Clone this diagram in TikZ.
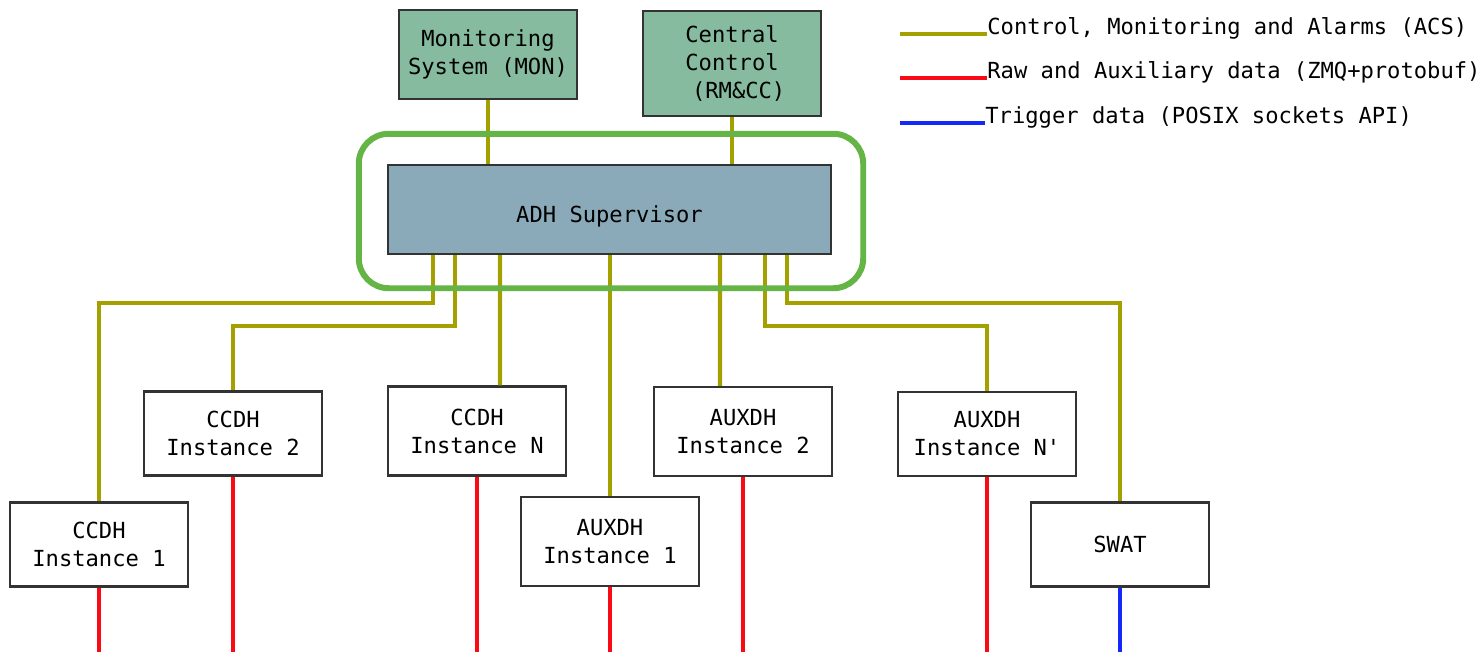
\documentclass[tikz,border=0pt]{standalone}
\usepackage{fontspec}
\setmonofont{DejaVu Sans Mono}
\usepackage{xcolor}
\usepackage{tikz}

\definecolor{acscol}{RGB}{163,160,0}
\definecolor{rawcol}{RGB}{250,10,20}
\definecolor{trigcol}{RGB}{20,40,250}
\definecolor{extfill}{RGB}{134,187,159}
\definecolor{supfill}{RGB}{138,170,185}
\definecolor{framecol}{RGB}{100,180,70}

\begin{document}
\begin{tikzpicture}[%
  unit/.style={draw=black!80,line width=1.4pt,minimum width=3.56cm,minimum height=1.68cm,align=center,font=\ttfamily\fontsize{12.6}{15.9}\selectfont},
  ext/.style={unit,fill=extfill,minimum height=1.78cm},
  supbox/.style={unit,fill=supfill,minimum width=8.86cm,minimum height=1.78cm,text height=0.6cm,text depth=0.07cm},
  inst/.style={unit,fill=white},
  tall/.style={minimum height=1.78cm},
  desc/.style={anchor=base west,inner sep=0pt,font=\ttfamily\fontsize{12.6}{15.9}\selectfont},
  acs/.style={draw=acscol,line width=2.3pt},
  raw/.style={draw=rawcol,line width=2.3pt},
  trig/.style={draw=trigcol,line width=2.3pt},
  busframe/.style={draw=framecol,line width=3.4pt,rounded corners=0.6cm}
]
  \useasboundingbox (0,0) rectangle (29.62,-13.18);

  \node (mon) at (9.76,-1.09) [ext] {Monitoring\\System (MON)};
  \node (rmcc) at (14.64,-1.27) [ext,minimum height=2.1cm] {Central\\Control\\\ (RM\&CC)};
  \node (adhsup) at (12.19,-4.19) [supbox] {ADH Supervisor};

  \node (ccdh1) at (1.98,-10.89) [inst] {CCDH\\Instance 1};
  \node (ccdh2) at (4.66,-8.67) [inst] {CCDH\\Instance 2};
  \node (ccdhn) at (9.54,-8.62) [inst,tall] {CCDH\\Instance N};
  \node (auxdh1) at (12.2,-10.83) [inst,tall] {AUXDH\\Instance 1};
  \node (auxdh2) at (14.86,-8.63) [inst,tall] {AUXDH\\Instance 2};
  \node (auxdhn) at (19.74,-8.68) [inst] {AUXDH\\Instance N'};
  \node (swat) at (22.4,-10.89) [inst] {SWAT};

  \draw [acs] (mon.south) -- (mon.south |- adhsup.north);
  \draw [acs] (rmcc.south) -- (rmcc.south |- adhsup.north);

  \draw [acs] ([xshift=-3.53cm]adhsup.south) -- ++(0,-0.96) -| (ccdh1.north);
  \draw [acs] ([xshift=-3.09cm]adhsup.south) -- ++(0,-1.42) -| (ccdh2.north);
  \draw [acs] ([xshift=-2.19cm]adhsup.south) -- ([xshift=0.46cm]ccdhn.north);
  \draw [acs] (auxdh1.north |- adhsup.south) -- (auxdh1.north);
  \draw [acs] ([xshift=2.21cm]adhsup.south) -- ([xshift=-0.46cm]auxdh2.north);
  \draw [acs] ([xshift=3.11cm]adhsup.south) -- ++(0,-1.42) -| (auxdhn.north);
  \draw [acs] ([xshift=3.55cm]adhsup.south) -- ++(0,-0.96) -| (swat.north);

  \coordinate (bottom) at (0,-13.04);
  \draw [raw] (ccdh1.south) -- (ccdh1.south |- bottom);
  \draw [raw] (ccdh2.south) -- (ccdh2.south |- bottom);
  \draw [raw] (ccdhn.south) -- (ccdhn.south |- bottom);
  \draw [raw] (auxdh1.south) -- (auxdh1.south |- bottom);
  \draw [raw] (auxdh2.south) -- (auxdh2.south |- bottom);
  \draw [raw] (auxdhn.south) -- (auxdhn.south |- bottom);
  \draw [trig] (swat.south) -- (swat.south |- bottom);

  \draw [busframe] ([shift={(-0.56,0.6)}]adhsup.north west) rectangle ([shift={(0.62,-0.66)}]adhsup.south east);

  \node (lacs) at (19.74,-0.68) [desc] {Control, Monitoring and Alarms (ACS)};
  \node (lraw) at (19.74,-1.56) [desc] {Raw and Auxiliary data (ZMQ+protobuf)};
  \node (ltrig) at (19.7,-2.46) [desc] {Trigger data (POSIX sockets API)};
  \draw [acs] ([xshift=-1.74cm]lacs.base west) -- (lacs.base west);
  \draw [raw] ([xshift=-1.74cm]lraw.base west) -- (lraw.base west);
  \draw [trig] ([xshift=-1.7cm]ltrig.base west) -- (ltrig.base west);
\end{tikzpicture}
\end{document}
